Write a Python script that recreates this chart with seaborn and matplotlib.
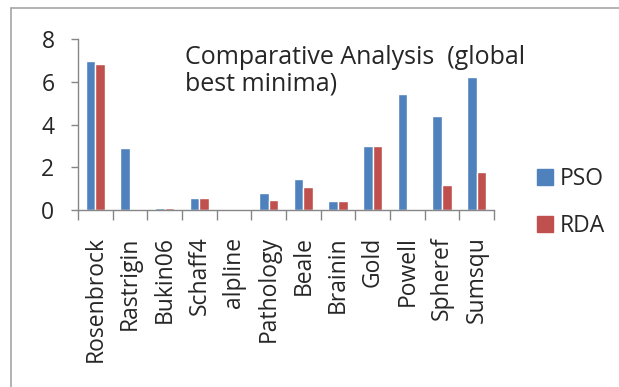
import matplotlib
matplotlib.use("Agg")
import matplotlib.pyplot as plt
import seaborn as sns
import pandas as pd
from matplotlib.lines import Line2D
from matplotlib.ticker import FixedLocator

categories = ["Rosenbrock", "Rastrigin", "Bukin06", "Schaff4", "alpline", "Pathology",
              "Beale", "Brainin", "Gold", "Powell", "Spheref", "Sumsqu"]
pso = [6.95, 2.88, 0.11, 0.55, 0.0, 0.79, 1.46, 0.42, 2.99, 5.42, 4.38, 6.21]
rda = [6.84, 0.0, 0.11, 0.55, 0.0, 0.48, 1.09, 0.42, 2.99, 0.0, 1.17, 1.76]
series = ["PSO", "RDA"]
colors = ["#4F81BD", "#C0504D"]
yticks = [0, 2, 4, 6, 8]
title = "Comparative Analysis  (global\nbest minima)"

df = pd.DataFrame({
    "category": categories * 2,
    "value": pso + rda,
    "series": [series[0]] * len(categories) + [series[1]] * len(categories),
})

sns.set_style("white")
plt.rcParams["font.family"] = ["Open Sans", "DejaVu Sans"]
FS = 16.5

fig = plt.figure(figsize=(6.19, 3.87), dpi=100)
ax = fig.add_axes([78 / 619, 1 - 210 / 387, (494 - 78) / 619, (210 - 39) / 387])

sns.barplot(data=df, x="category", y="value", hue="series", palette=colors,
            width=0.56, ax=ax, saturation=1, legend=False, errorbar=None)

ax.set_xlim(-0.5, len(categories) - 0.5)
ax.set_ylim(0, 8)
ax.set_yticks(yticks)
ax.set_xlabel("")
ax.set_ylabel("")

gray = "#868686"
for s in ["top", "right"]:
    ax.spines[s].set_visible(False)
for s in ["left", "bottom"]:
    ax.spines[s].set_color(gray)
    ax.spines[s].set_linewidth(1.0)

ax.tick_params(axis="y", length=5, color=gray, width=1, labelsize=FS, pad=12, left=True)
ax.tick_params(axis="x", which="major", length=0, labelsize=FS, pad=19, rotation=90)
ax.xaxis.set_minor_locator(FixedLocator([i - 0.5 for i in range(len(categories) + 1)]))
ax.tick_params(axis="x", which="minor", length=7, color=gray, width=1, bottom=True)
for lab in ax.get_xticklabels():
    lab.set_va("top")

ax.text(185 / 619, 1 - 45 / 387, title, transform=fig.transFigure, fontsize=18,
        ha="left", va="top", linespacing=1.08)

handles = [Line2D([0], [0], marker="s", linestyle="", markersize=11,
                  markerfacecolor=c, markeredgecolor=c) for c in colors]
fig.legend(handles, series, loc="upper left", bbox_to_anchor=(522 / 619, 1 - 158 / 387),
           frameon=False, fontsize=FS, handletextpad=0.05, labelspacing=1.0,
           borderaxespad=0, handlelength=1.2)

# outer chart border (top and left visible)
fig.add_artist(Line2D([11 / 619, 11 / 619], [0, 1 - 8 / 387], color="#a6a6a6",
                      linewidth=1.2, transform=fig.transFigure))
fig.add_artist(Line2D([11 / 619, 1], [1 - 8 / 387, 1 - 8 / 387], color="#a6a6a6",
                      linewidth=1.2, transform=fig.transFigure))

fig.savefig("out.png", dpi=100)
